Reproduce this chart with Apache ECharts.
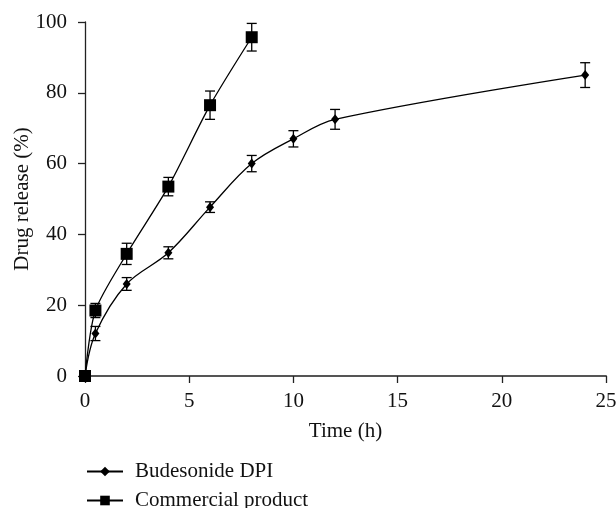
<!DOCTYPE html>
<html><head><meta charset="utf-8">
<script src="https://cdn.jsdelivr.net/npm/echarts@6/dist/echarts.min.js"></script>
<style>html,body{margin:0;padding:0;background:#fff}#c{width:616px;height:508px}</style>
</head><body><div id="c"></div>
<script>
const budTime = [0, 0.5, 2, 4, 6, 8, 10, 12, 24];
const budValue = [0, 12, 26, 34.8, 47.7, 60, 67, 72.5, 85];
const budErr = [0.8, 2, 1.8, 1.7, 1.5, 2.3, 2.3, 2.8, 3.5];
const comTime = [0, 0.5, 2, 4, 6, 8];
const comValue = [0, 18.5, 34.5, 53.5, 76.5, 95.7];
const comErr = [0.8, 2, 3, 2.6, 4, 3.9];
const xTicks = [0, 5, 10, 15, 20, 25];
const yTicks = [0, 20, 40, 60, 80, 100];

const font = "Liberation Serif";
const fs = 21;
const pts = (t, v) => t.map((x, i) => [x, v[i]]);
const errs = (t, v, e) => t.map((x, i) => [x, v[i] - e[i], v[i] + e[i]]);

function errRender(params, api) {
  const x = api.value(0);
  const lo = api.coord([x, api.value(1)]);
  const hi = api.coord([x, api.value(2)]);
  const w = 5;
  const st = { stroke: '#000', lineWidth: 1.3 };
  return { type: 'group', children: [
    { type: 'line', shape: { x1: lo[0], y1: lo[1], x2: hi[0], y2: hi[1] }, style: st },
    { type: 'line', shape: { x1: lo[0] - w, y1: lo[1], x2: lo[0] + w, y2: lo[1] }, style: st },
    { type: 'line', shape: { x1: hi[0] - w, y1: hi[1], x2: hi[0] + w, y2: hi[1] }, style: st }
  ]};
}

const legTextStyle = {
  fontFamily: font, fontSize: fs, color: '#111', padding: [0, 0, 0, 7],
  rich: { t: { fontFamily: font, fontSize: fs, color: '#111' } }
};
const legendBase = {
  orient: 'horizontal', left: 86, itemWidth: 36, itemHeight: 12, padding: 0,
  formatter: '{t|{name}}',
  textStyle: legTextStyle
};

const chart = echarts.init(document.getElementById('c'), null, { renderer: 'canvas' });
chart.setOption({
  animation: false,
  textStyle: { fontFamily: font },
  grid: { left: 85, right: 10, top: 22, bottom: 132, outerBoundsMode: 'none', containLabel: false },
  xAxis: {
    type: 'value', min: xTicks[0], max: xTicks[xTicks.length - 1], interval: 5,
    name: 'Time (h)', nameLocation: 'middle', nameGap: 45, nameMoveOverlap: false,
    nameTextStyle: { fontFamily: font, fontSize: fs, color: '#111' },
    axisLine: { lineStyle: { color: '#555', width: 2 } },
    axisTick: { length: 7, lineStyle: { color: '#222', width: 1.3 } },
    axisLabel: { fontFamily: font, fontSize: fs, color: '#111', margin: 15 },
    splitLine: { show: false }
  },
  yAxis: {
    type: 'value', min: yTicks[0], max: yTicks[yTicks.length - 1], interval: 20,
    name: 'Drug release (%)', nameLocation: 'middle', nameGap: 52, nameMoveOverlap: false,
    nameTextStyle: { fontFamily: font, fontSize: fs, color: '#111' },
    axisLine: { show: true, lineStyle: { color: '#222', width: 1.3 } },
    axisTick: { show: true, length: 7, lineStyle: { color: '#222', width: 1.3 } },
    axisLabel: { fontFamily: font, fontSize: fs, color: '#111', margin: 18 },
    splitLine: { show: false }
  },
  legend: [
    Object.assign({}, legendBase, { top: 461, data: ['Budesonide DPI'] }),
    Object.assign({}, legendBase, { top: 490, data: ['Commercial product'] })
  ],
  series: [
    { name: 'Budesonide DPI', type: 'line', data: pts(budTime, budValue), smooth: 0.35,
      symbol: 'diamond', symbolSize: [8, 10], itemStyle: { color: '#000' },
      lineStyle: { color: '#000', width: 1.3 }, z: 3 },
    { name: 'Commercial product', type: 'line', data: pts(comTime, comValue), smooth: 0.25,
      symbol: 'rect', symbolSize: 12, itemStyle: { color: '#000' },
      lineStyle: { color: '#000', width: 1.3 }, z: 3 },
    { type: 'custom', renderItem: errRender, data: errs(budTime, budValue, budErr), z: 4, silent: true },
    { type: 'custom', renderItem: errRender, data: errs(comTime, comValue, comErr), z: 4, silent: true }
  ]
});
</script></body></html>
